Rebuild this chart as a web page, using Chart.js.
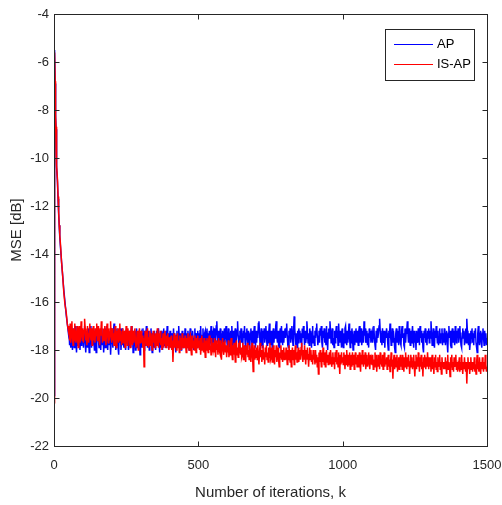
<!DOCTYPE html>
<html>
<head>
<meta charset="utf-8">
<script src="https://cdn.jsdelivr.net/npm/chart.js@4.4.1/dist/chart.umd.min.js"></script>
<style>
  html, body { margin: 0; padding: 0; background: #fff; }
  #wrap { width: 502px; height: 505px; }
</style>
</head>
<body>
<div id="wrap"><canvas id="mseChart" width="502" height="505"></canvas></div>
<script>
// transient part, sampled densely
var transK = [0, 1, 2, 3, 4, 5, 6, 7, 8, 10, 12, 14, 16, 18, 20, 23, 26, 30, 34, 38, 42, 46, 50];
var apTrans   = [-19.9, -12.2, -5.7, -5.5, -6.9, -7.7, -8.3, -8.8, -9.4, -10.4, -11.0, -11.7, -12.3, -12.8, -13.3, -13.8, -14.3, -14.9, -15.5, -16.0, -16.5, -16.9, -17.3];
var isapTrans = [-20.2, -12.0, -5.8, -5.6, -6.8, -7.6, -8.2, -8.7, -9.3, -10.3, -10.9, -11.6, -12.2, -12.8, -13.2, -13.7, -14.3, -14.9, -15.6, -16.1, -16.4, -16.9, -17.2];

// steady state, k = 52 .. 1500 every 2 iterations (one row = 50 iterations)
var apSteady = [
  -17.1,-17.8,-17.3,-17.9,-17.2,-17.6,-18.0,-17.1,-17.5,-17.9,-17.3,-17.0,-17.7,-18.1,-17.4,-17.2,-17.8,-17.1,-17.6,-18.0,-17.3,-17.8,-17.1,-17.7,-17.2,
  -17.9,-17.3,-17.0,-17.7,-18.1,-17.4,-17.2,-17.9,-17.1,-17.6,-18.1,-17.3,-17.0,-17.5,-17.9,-17.2,-17.8,-17.1,-17.6,-18.0,-17.2,-17.7,-18.1,-17.3,-17.6,
  -17.0,-17.6,-17.9,-17.2,-17.7,-18.0,-17.3,-17.1,-17.8,-17.4,-18.1,-17.6,-17.1,-17.9,-17.3,-17.0,-17.7,-18.0,-17.4,-17.2,-17.8,-17.3,-18.2,-17.6,-17.1,
  -17.6,-17.9,-17.2,-16.9,-17.7,-17.3,-18.0,-17.8,-17.1,-17.5,-17.9,-18.2,-17.3,-17.7,-17.1,-18.0,-17.5,-17.1,-17.8,-17.3,-17.9,-17.6,-17.2,-18.0,-17.4,
  -17.1,-17.7,-17.3,-18.0,-17.8,-17.2,-17.5,-17.9,-17.0,-17.6,-17.3,-18.1,-17.7,-17.2,-17.5,-18.0,-17.6,-17.1,-17.9,-17.3,-17.7,-17.2,-17.8,-18.2,-17.4,
  -17.3,-17.9,-17.5,-17.1,-17.7,-18.0,-17.2,-17.8,-17.4,-17.0,-17.6,-17.9,-17.3,-17.2,-18.0,-17.5,-17.8,-17.1,-17.7,-18.1,-17.3,-17.5,-17.9,-17.2,-17.6,
  -18.0,-17.4,-17.2,-17.8,-17.3,-17.1,-17.7,-18.1,-17.5,-17.9,-17.2,-17.6,-18.0,-17.3,-17.1,-17.8,-17.4,-17.9,-17.2,-17.7,-17.0,-17.5,-17.9,-17.3,-17.8,
  -17.2,-17.7,-17.9,-17.3,-17.5,-18.0,-17.1,-17.7,-17.3,-17.8,-18.1,-17.4,-17.2,-17.9,-17.6,-17.0,-17.5,-17.8,-17.3,-18.0,-17.6,-17.2,-17.5,-17.9,-17.3,
  -17.7,-17.1,-17.5,-17.9,-17.3,-17.8,-17.2,-17.7,-18.0,-17.4,-17.1,-17.7,-17.3,-17.9,-17.2,-17.5,-18.0,-17.6,-17.1,-17.8,-17.3,-17.5,-17.9,-17.2,-17.7,
  -17.3,-17.8,-17.2,-17.0,-17.7,-17.9,-17.4,-17.1,-17.7,-18.0,-17.3,-17.2,-17.8,-17.5,-17.1,-17.9,-17.3,-17.7,-17.2,-17.8,-17.5,-17.0,-17.7,-17.9,-17.3,
  -17.2,-17.7,-17.1,-17.8,-17.5,-17.0,-16.8,-17.4,-17.7,-17.2,-17.9,-17.5,-17.1,-17.7,-17.3,-17.8,-17.2,-17.5,-17.9,-17.1,-17.7,-17.3,-17.0,-17.5,-17.8,
  -17.5,-17.1,-17.7,-17.9,-17.3,-17.2,-17.8,-17.0,-17.5,-17.9,-17.2,-17.7,-17.3,-17.1,-17.8,-17.5,-17.2,-16.8,-17.4,-17.7,-17.9,-17.2,-17.5,-17.1,-17.7,
  -17.3,-17.8,-17.2,-17.5,-17.0,-17.7,-17.9,-17.3,-17.1,-17.5,-17.8,-17.2,-17.7,-18.0,-17.3,-17.1,-17.5,-17.8,-17.2,-17.7,-17.3,-17.0,-17.5,-17.9,-17.2,
  -17.7,-17.2,-17.5,-16.9,-16.8,-17.3,-17.8,-17.5,-17.1,-17.7,-17.9,-17.2,-17.5,-17.1,-17.7,-17.3,-17.0,-17.5,-17.8,-17.2,-17.7,-17.3,-16.9,-17.5,-17.8,
  -17.2,-17.5,-17.9,-17.3,-17.1,-17.7,-17.2,-17.5,-17.0,-16.8,-17.4,-17.7,-17.2,-17.8,-17.9,-17.3,-17.1,-17.7,-17.0,-17.5,-17.8,-17.2,-17.7,-17.3,-17.1,
  -17.5,-17.1,-16.9,-17.4,-17.8,-17.9,-17.2,-17.5,-17.1,-17.7,-17.3,-17.0,-17.5,-17.8,-17.2,-16.6,-17.1,-17.5,-17.8,-17.3,-17.9,-17.2,-17.7,-17.1,-17.5,
  -17.2,-17.7,-17.3,-17.9,-17.1,-17.5,-17.0,-17.4,-17.8,-17.2,-17.7,-17.5,-16.8,-17.2,-17.7,-17.3,-17.8,-17.1,-17.5,-17.2,-17.9,-17.3,-17.0,-17.7,-17.4,
  -17.8,-17.2,-17.5,-17.1,-16.9,-17.4,-17.8,-17.5,-17.2,-17.7,-17.1,-17.4,-17.0,-17.7,-17.9,-17.2,-17.5,-17.1,-17.7,-17.3,-17.8,-17.0,-17.5,-18.0,-17.3,
  -17.1,-17.5,-16.8,-17.2,-17.7,-17.4,-17.1,-17.8,-17.5,-17.9,-17.2,-17.7,-17.3,-17.0,-17.5,-17.2,-17.8,-16.9,-17.4,-17.7,-17.2,-17.5,-17.9,-17.1,-17.7,
  -17.9,-17.3,-17.7,-17.1,-17.0,-17.5,-17.8,-17.2,-17.7,-17.3,-16.9,-17.5,-17.9,-17.2,-17.7,-17.1,-17.4,-18.0,-17.5,-17.2,-17.8,-17.3,-17.1,-17.7,-17.2,
  -17.5,-17.8,-17.2,-17.0,-17.7,-17.3,-17.1,-17.8,-17.5,-17.2,-17.7,-16.8,-17.4,-17.1,-17.7,-17.5,-17.2,-17.8,-17.3,-17.9,-17.1,-17.5,-17.2,-17.7,-17.3,
  -17.2,-17.7,-17.3,-17.0,-17.5,-17.8,-18.0,-17.2,-17.7,-17.1,-17.5,-17.3,-17.0,-16.7,-17.2,-17.7,-17.3,-17.8,-17.1,-17.5,-17.7,-17.2,-17.9,-17.3,-17.5,
  -17.1,-17.3,-17.7,-18.0,-17.2,-17.5,-16.9,-17.4,-17.8,-17.5,-17.1,-17.7,-17.2,-17.5,-17.9,-18.1,-17.3,-17.1,-17.7,-17.2,-17.5,-17.8,-17.0,-17.3,-17.7,
  -17.8,-17.2,-17.0,-17.5,-17.3,-17.8,-17.9,-17.1,-17.7,-17.3,-17.2,-16.8,-17.3,-17.7,-17.1,-17.5,-17.8,-17.2,-17.7,-17.3,-17.0,-17.5,-17.9,-17.2,-17.7,
  -17.3,-18.0,-17.2,-17.5,-17.7,-17.1,-17.3,-17.8,-17.0,-17.5,-17.2,-17.7,-17.3,-17.9,-18.1,-17.2,-17.5,-17.1,-17.7,-17.3,-17.8,-17.2,-17.5,-17.1,-17.7,
  -17.2,-17.5,-16.8,-17.3,-17.8,-17.5,-17.1,-17.7,-17.9,-17.2,-17.5,-17.0,-17.3,-17.7,-17.2,-17.8,-17.5,-17.1,-17.7,-17.3,-17.5,-17.1,-17.8,-17.3,-17.7,
  -17.1,-17.5,-17.8,-17.3,-17.2,-17.7,-18.1,-17.3,-17.0,-17.5,-17.2,-17.8,-17.9,-17.3,-17.1,-17.7,-17.2,-17.5,-17.8,-17.0,-17.3,-17.7,-17.2,-17.5,-17.1,
  -17.7,-17.2,-17.0,-17.5,-17.8,-17.9,-17.3,-17.1,-17.5,-17.2,-17.8,-17.3,-17.1,-17.7,-16.7,-17.2,-17.5,-17.8,-17.3,-18.0,-17.7,-17.2,-17.5,-17.1,-17.7,
  -17.3,-17.8,-17.2,-17.5,-17.1,-17.7,-17.9,-18.1,-17.3,-17.0,-17.5,-17.8,-17.3,-17.2,-17.7,-17.9,-17.3,-17.1,-17.5,-17.8,-17.2,-17.7,-17.3,-17.8,-17.5
];
var isapSteady = [
  -17.0,-17.6,-16.9,-17.7,-17.2,-16.8,-17.5,-17.8,-17.1,-17.6,-16.9,-17.3,-17.7,-17.4,-17.0,-17.6,-17.9,-17.2,-17.0,-17.7,-17.4,-16.8,-17.3,-17.6,-17.1,
  -17.7,-17.2,-16.7,-17.1,-17.6,-17.4,-17.8,-17.0,-17.3,-17.7,-17.4,-16.9,-17.3,-17.6,-17.1,-17.8,-17.4,-17.0,-17.6,-17.2,-17.7,-17.1,-17.4,-16.9,-17.6,
  -17.3,-17.0,-17.6,-17.8,-17.1,-17.4,-16.8,-17.2,-17.7,-17.4,-17.1,-17.6,-17.0,-17.4,-17.8,-17.2,-16.9,-17.4,-17.7,-17.1,-17.6,-17.3,-16.8,-17.4,-17.7,
  -17.1,-17.6,-17.3,-17.8,-17.4,-17.0,-17.7,-17.9,-17.2,-17.6,-17.1,-17.7,-17.4,-16.9,-17.6,-17.2,-17.8,-17.4,-17.1,-17.7,-17.5,-17.2,-17.9,-17.4,-17.0,
  -17.4,-17.8,-17.1,-17.6,-17.2,-17.7,-17.9,-17.3,-17.0,-17.6,-17.8,-17.2,-17.7,-17.4,-17.1,-17.6,-17.9,-17.7,-17.2,-17.5,-18.0,-17.4,-17.1,-17.7,-17.5,
  -17.2,-17.7,-17.4,-17.9,-17.5,-18.7,-17.7,-17.2,-17.5,-17.8,-17.3,-17.1,-17.7,-17.9,-17.5,-17.2,-17.8,-17.3,-17.7,-18.0,-17.4,-17.2,-17.7,-17.4,-17.9,
  -17.3,-17.8,-17.5,-17.1,-17.7,-17.9,-17.3,-17.7,-17.2,-17.8,-17.5,-18.0,-17.6,-17.3,-17.9,-17.5,-17.2,-17.7,-17.9,-17.4,-17.8,-17.3,-17.7,-18.0,-17.5,
  -17.5,-17.9,-17.4,-18.0,-17.6,-18.5,-17.8,-17.3,-17.9,-17.6,-17.4,-18.0,-17.8,-17.3,-17.9,-17.6,-18.1,-17.4,-17.8,-17.5,-18.0,-17.3,-17.8,-17.9,-17.5,
  -17.9,-17.4,-17.8,-18.1,-17.5,-17.9,-17.3,-17.8,-18.0,-17.5,-17.4,-17.9,-18.2,-17.7,-17.4,-17.9,-17.6,-18.0,-17.4,-17.8,-18.1,-17.5,-17.9,-17.4,-17.8,
  -17.6,-18.0,-17.5,-18.2,-17.8,-17.4,-18.0,-17.7,-18.1,-17.5,-17.9,-18.3,-17.6,-18.0,-17.5,-17.9,-18.1,-17.6,-17.4,-18.0,-17.8,-18.2,-17.5,-17.9,-18.0,
  -17.7,-18.1,-17.5,-18.0,-18.3,-17.6,-18.0,-17.8,-18.2,-17.5,-18.0,-18.1,-17.6,-18.0,-18.4,-17.8,-17.5,-18.0,-18.2,-17.7,-17.6,-18.1,-17.8,-18.3,-17.9,
  -18.1,-17.6,-18.3,-17.9,-18.2,-17.7,-17.5,-18.1,-18.4,-17.8,-18.2,-17.7,-18.0,-18.5,-17.8,-17.6,-18.2,-17.9,-18.3,-17.7,-18.1,-17.6,-18.2,-17.9,-18.3,
  -18.2,-17.7,-18.4,-18.0,-17.8,-18.3,-18.5,-17.8,-18.2,-17.7,-18.3,-18.0,-18.4,-17.8,-18.2,-18.5,-18.0,-17.7,-18.3,-18.9,-18.2,-17.8,-18.4,-18.0,-18.3,
  -17.9,-18.4,-17.8,-18.3,-18.6,-18.1,-17.7,-18.3,-18.0,-18.5,-18.2,-17.8,-18.4,-18.1,-18.6,-17.9,-18.3,-17.8,-18.4,-18.1,-18.5,-17.9,-18.3,-17.7,-18.4,
  -18.3,-17.9,-18.5,-18.1,-17.8,-18.4,-18.6,-18.0,-18.3,-17.8,-18.5,-18.2,-17.9,-18.4,-18.7,-18.1,-18.3,-17.8,-18.4,-18.0,-18.5,-18.2,-17.9,-18.4,-18.1,
  -18.4,-17.9,-18.2,-18.6,-18.0,-18.4,-17.8,-18.2,-18.5,-18.0,-18.7,-18.2,-17.9,-18.4,-18.0,-18.6,-18.2,-17.8,-18.4,-18.1,-18.5,-18.2,-17.9,-18.5,-18.2,
  -18.0,-18.4,-17.9,-17.7,-18.2,-18.5,-18.0,-18.4,-17.8,-18.2,-18.6,-18.0,-18.4,-17.9,-18.2,-18.7,-18.2,-17.9,-18.4,-18.0,-18.5,-18.2,-18.6,-18.0,-18.4,
  -18.2,-18.6,-18.0,-18.5,-18.2,-18.7,-18.3,-19.0,-18.1,-18.5,-18.0,-18.3,-18.7,-18.1,-18.5,-17.9,-18.3,-18.6,-18.1,-18.7,-18.3,-18.0,-18.5,-18.2,-18.6,
  -18.5,-18.1,-18.6,-18.0,-18.3,-18.7,-18.5,-18.1,-18.6,-18.3,-18.8,-18.1,-18.5,-18.0,-18.6,-18.3,-18.7,-18.1,-18.5,-19.0,-18.2,-18.6,-18.1,-18.5,-18.3,
  -18.6,-18.1,-18.4,-18.8,-18.2,-18.6,-18.0,-18.4,-18.7,-18.2,-18.6,-18.1,-18.8,-18.4,-18.2,-18.7,-18.1,-18.6,-18.2,-18.8,-18.4,-18.1,-18.6,-18.3,-18.7,
  -18.2,-18.7,-18.4,-18.1,-18.6,-18.9,-18.2,-18.6,-18.0,-18.4,-18.7,-18.2,-18.6,-18.1,-18.8,-18.4,-18.2,-18.7,-18.4,-18.1,-18.6,-18.8,-18.2,-18.6,-18.4,
  -18.6,-18.2,-18.8,-18.4,-18.7,-18.1,-18.6,-18.2,-18.9,-18.4,-18.7,-18.2,-18.5,-18.8,-18.1,-18.6,-18.4,-18.7,-18.2,-18.8,-18.5,-18.1,-18.7,-18.4,-18.6,
  -18.3,-18.8,-18.5,-18.2,-18.7,-18.4,-18.9,-18.5,-18.1,-18.7,-18.4,-19.2,-18.5,-18.2,-18.8,-18.5,-18.3,-18.7,-18.2,-18.9,-18.5,-18.3,-18.8,-18.5,-18.2,
  -18.7,-18.3,-18.8,-18.2,-18.5,-18.9,-18.3,-18.7,-18.1,-18.5,-18.8,-18.3,-18.7,-18.2,-18.5,-19.0,-18.5,-18.2,-18.7,-18.3,-18.8,-18.5,-18.2,-18.7,-19.1,
  -18.5,-18.2,-18.8,-18.3,-18.7,-18.1,-18.5,-18.9,-18.3,-18.7,-18.2,-18.8,-18.5,-19.1,-18.3,-18.7,-18.2,-18.5,-18.8,-18.3,-18.7,-18.1,-18.5,-18.8,-18.3,
  -18.7,-18.3,-18.9,-18.5,-18.2,-18.8,-18.5,-19.0,-18.3,-18.7,-18.2,-18.8,-18.5,-18.9,-18.3,-18.7,-18.5,-18.2,-18.8,-18.5,-19.0,-18.3,-18.7,-18.5,-18.8,
  -18.5,-18.8,-18.3,-18.7,-19.0,-18.5,-18.2,-18.8,-18.5,-18.7,-19.1,-18.3,-18.7,-18.2,-18.8,-18.5,-18.9,-18.3,-18.7,-18.5,-18.2,-18.8,-18.5,-18.9,-18.6,
  -18.7,-18.3,-18.9,-18.5,-18.8,-18.2,-18.7,-19.0,-18.5,-18.8,-18.3,-18.7,-18.9,-18.5,-19.4,-18.7,-18.3,-18.8,-18.5,-19.0,-18.7,-18.3,-18.8,-18.5,-18.9,
  -18.5,-18.8,-18.3,-18.9,-18.6,-19.0,-18.5,-18.2,-18.8,-18.6,-18.9,-18.3,-18.7,-19.0,-18.5,-18.8,-18.3,-18.7,-18.9,-18.5,-18.8,-18.2,-18.6,-18.9,-18.7
];

var seriesNames = ['AP', 'IS-AP'];
var seriesColors = ['#0000ff', '#ff0000'];
var xTicks = [0, 500, 1000, 1500];
var yTicks = [-22, -20, -18, -16, -14, -12, -10, -8, -6, -4];

// x positions of the steady-state samples
var steadyK = [];
for (var k = 52; k <= 1500; k += 2) steadyK.push(k);

function toPoints(kArr, vArr) {
  return kArr.map(function (k, i) { return { x: k, y: vArr[i] }; });
}
var apPoints = toPoints(transK, apTrans).concat(toPoints(steadyK, apSteady));
var isapPoints = toPoints(transK, isapTrans).concat(toPoints(steadyK, isapSteady));

var axisColor = '#262626';
var font = 'Liberation Sans, Arial, Helvetica, sans-serif';

// MATLAB-like box with inward ticks and legend inside the axes
var matlabBox = {
  id: 'matlabBox',
  afterDatasetsDraw: function (chart) {
    var c = chart.ctx, a = chart.chartArea;
    var xs = chart.scales.x, ys = chart.scales.y;
    var L = Math.round(a.left) + 0.5, R = Math.round(a.right) + 0.5;
    var T = Math.round(a.top) + 0.5, B = Math.round(a.bottom) + 0.5;
    c.save();
    c.strokeStyle = axisColor;
    c.lineWidth = 1;
    c.strokeRect(L, T, R - L, B - T);
    c.beginPath();
    xTicks.forEach(function (v) {
      var px = Math.round(xs.getPixelForValue(v)) + 0.5;
      c.moveTo(px, B); c.lineTo(px, B - 5);
      c.moveTo(px, T); c.lineTo(px, T + 5);
    });
    yTicks.forEach(function (v) {
      var py = Math.round(ys.getPixelForValue(v)) + 0.5;
      c.moveTo(L, py); c.lineTo(L + 5, py);
      c.moveTo(R, py); c.lineTo(R - 5, py);
    });
    c.stroke();

    // legend box
    var bx = 385.5, by = 29.5, bw = 89, bh = 51;
    c.fillStyle = '#fff';
    c.fillRect(bx, by, bw, bh);
    c.strokeStyle = axisColor;
    c.strokeRect(bx, by, bw, bh);
    c.font = '13px ' + font;
    c.textBaseline = 'middle';
    c.textAlign = 'left';
    var rowsY = [44, 64];
    seriesNames.forEach(function (name, i) {
      c.strokeStyle = seriesColors[i];
      c.beginPath();
      c.moveTo(394, rowsY[i] + 0.5);
      c.lineTo(433, rowsY[i] + 0.5);
      c.stroke();
      c.fillStyle = '#000';
      c.fillText(name, 437, rowsY[i]);
    });
    c.restore();
  }
};

var ctx = document.getElementById('mseChart');
var mseChart = new Chart(ctx, {
  type: 'line',
  data: {
    datasets: [{
      label: seriesNames[0],
      data: apPoints,
      borderColor: seriesColors[0],
      borderWidth: 1.5,
      pointRadius: 0,
      order: 2
    }, {
      label: seriesNames[1],
      data: isapPoints,
      borderColor: seriesColors[1],
      borderWidth: 1.5,
      pointRadius: 0,
      order: 1
    }]
  },
  options: {
    responsive: false,
    animation: false,
    parsing: false,
    layout: { padding: { top: 14, right: 15, left: 0, bottom: 0 } },
    plugins: {
      legend: { display: false },
      tooltip: { enabled: false }
    },
    scales: {
      x: {
        type: 'linear',
        min: 0,
        max: 1500,
        afterBuildTicks: function (s) { s.ticks = xTicks.map(function (v) { return { value: v }; }); },
        afterFit: function (s) { s.height = 59; s.paddingLeft = 0; s.paddingRight = 0; },
        grid: { display: false, drawTicks: false },
        border: { display: false },
        ticks: {
          color: axisColor, font: { family: font, size: 13 }, padding: 12, maxRotation: 0,
          callback: function (v) { return String(v); }
        },
        title: { display: true, text: 'Number of iterations, k', color: axisColor, font: { family: font, size: 15 }, padding: { top: 0, bottom: 3 } }
      },
      y: {
        min: -22,
        max: -4,
        afterBuildTicks: function (s) { s.ticks = yTicks.map(function (v) { return { value: v }; }); },
        afterFit: function (s) { s.width = 54; s.paddingTop = 0; s.paddingBottom = 0; },
        grid: { display: false, drawTicks: false },
        border: { display: false },
        ticks: { color: axisColor, font: { family: font, size: 13 }, padding: 5 },
        title: { display: true, text: 'MSE [dB]', color: axisColor, font: { family: font, size: 15 }, padding: { top: 8, bottom: 0 } }
      }
    }
  },
  plugins: [matlabBox]
});
</script>
</body>
</html>
